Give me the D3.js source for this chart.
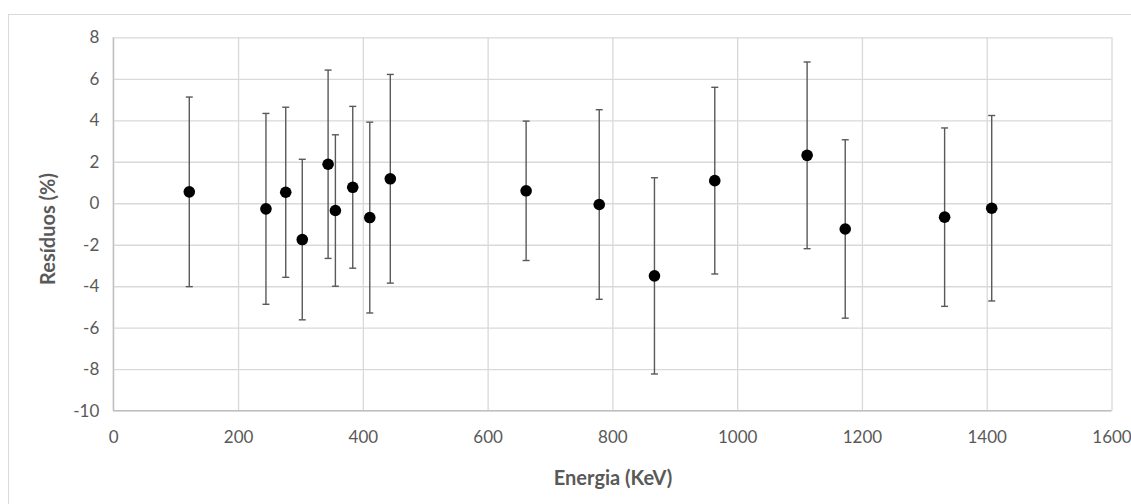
<!DOCTYPE html>
<meta charset="utf-8">
<style>
body { margin: 0; background: #fff; }
text { font-family: Lato, "Open Sans", sans-serif; fill: #595959; }
.tick text { font-size: 17px; }
.title { font-size: 20px; font-weight: bold; }
</style>

<svg width="1131" height="504"></svg>

<script src="https://cdn.jsdelivr.net/npm/d3@7"></script>
<script>
// energia (keV), residuo (%), incerteza (%)
var energia = [121.8, 244.7, 276.4, 302.9, 344.3, 356.0, 383.8, 411.1, 444.0,
               661.7, 778.9, 867.4, 964.1, 1112.1, 1173.2, 1332.5, 1408.0];
var residuo = [0.55, -0.27, 0.53, -1.75, 1.88, -0.35, 0.77, -0.69, 1.18,
               0.60, -0.06, -3.50, 1.09, 2.31, -1.24, -0.67, -0.24];
var erro = [4.57, 4.60, 4.10, 3.87, 4.54, 3.65, 3.90, 4.60, 5.03,
            3.36, 4.57, 4.73, 4.50, 4.50, 4.30, 4.30, 4.47];
var xTicks = [0, 200, 400, 600, 800, 1000, 1200, 1400, 1600];
var yTicks = [8, 6, 4, 2, 0, -2, -4, -6, -8, -10];

var svg = d3.select("svg");
var mLeft = 113.3, mRight = 1111.5, mTop = 37.3, mBottom = 410.7;

// moldura do grafico
svg.append("rect")
    .attr("x", 8.5).attr("y", 14.5)
    .attr("width", 1140).attr("height", 520)
    .attr("fill", "none").attr("stroke", "#d9d9d9");

var x = d3.scaleLinear().domain([0, 1600]).range([mLeft, mRight]);
var y = d3.scaleLinear().domain([-10, 8]).range([mBottom, mTop]);

// grade
svg.append("g")
    .attr("transform", "translate(0," + mBottom + ")")
    .call(d3.axisBottom(x).tickValues(xTicks).tickSize(-(mBottom - mTop)).tickFormat(""))
    .call(function(g) {
      g.select(".domain").remove();
      g.selectAll("line").attr("stroke", "#d9d9d9").attr("stroke-width", 1.3);
    });
svg.append("g")
    .attr("transform", "translate(" + mLeft + ",0)")
    .call(d3.axisLeft(y).tickValues(yTicks).tickSize(-(mRight - mLeft)).tickFormat(""))
    .call(function(g) {
      g.select(".domain").remove();
      g.selectAll("line").attr("stroke", "#d9d9d9").attr("stroke-width", 1.3);
    });

// eixos
svg.append("line").attr("x1", mLeft).attr("x2", mLeft).attr("y1", mTop).attr("y2", mBottom)
    .attr("stroke", "#bfbfbf").attr("stroke-width", 1.3);
svg.append("line").attr("x1", mLeft).attr("x2", mRight).attr("y1", mBottom).attr("y2", mBottom)
    .attr("stroke", "#bfbfbf").attr("stroke-width", 1.3);

// rotulos (hifen simples, como no Excel)
var fmt = function(d) { return String(d); };
svg.append("g")
    .attr("transform", "translate(0," + (mBottom + 20) + ")")
    .call(d3.axisBottom(x).tickValues(xTicks).tickSize(0).tickPadding(0).tickFormat(fmt))
    .call(function(g) {
      g.select(".domain").remove();
      g.selectAll("text").attr("dy", "0.71em").style("fill", "#595959");
    });
svg.append("g")
    .attr("transform", "translate(" + (mLeft - 14) + ",0)")
    .call(d3.axisLeft(y).tickValues(yTicks).tickSize(0).tickPadding(0).tickFormat(fmt))
    .call(function(g) {
      g.select(".domain").remove();
      g.selectAll("text").style("fill", "#595959");
    });

svg.append("text").attr("class", "title")
    .attr("x", 613).attr("y", 485)
    .attr("text-anchor", "middle")
    .text("Energia (KeV)");
svg.append("text").attr("class", "title")
    .attr("transform", "translate(55,229) rotate(-90)")
    .attr("text-anchor", "middle")
    .text("Resíduos (%)");

// barras de erro
var idx = d3.range(energia.length);
var eb = svg.append("g").attr("stroke", "#595959").attr("stroke-width", 1.4);
eb.selectAll(".v").data(idx).enter().append("line")
    .attr("x1", function(i) { return x(energia[i]); })
    .attr("x2", function(i) { return x(energia[i]); })
    .attr("y1", function(i) { return y(residuo[i] + erro[i]); })
    .attr("y2", function(i) { return y(residuo[i] - erro[i]); });
[1, -1].forEach(function(s) {
  eb.selectAll(".c" + s).data(idx).enter().append("line")
      .attr("x1", function(i) { return x(energia[i]) - 3.5; })
      .attr("x2", function(i) { return x(energia[i]) + 3.5; })
      .attr("y1", function(i) { return y(residuo[i] + s * erro[i]); })
      .attr("y2", function(i) { return y(residuo[i] + s * erro[i]); });
});

// pontos
svg.append("g").selectAll("circle").data(idx).enter().append("circle")
    .attr("cx", function(i) { return x(energia[i]); })
    .attr("cy", function(i) { return y(residuo[i]); })
    .attr("r", 5.8)
    .attr("fill", "#000");
</script>
